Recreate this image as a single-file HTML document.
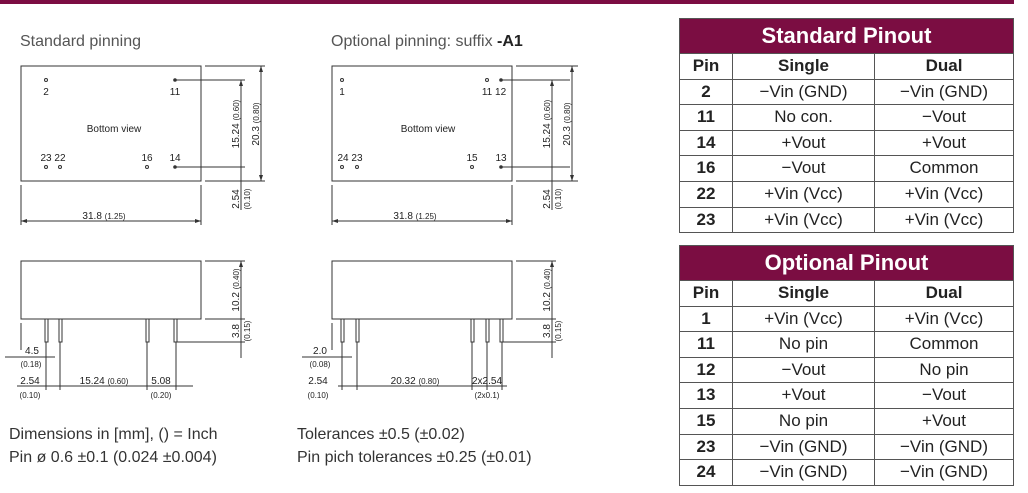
<!DOCTYPE html>
<html><head><meta charset="utf-8"><style>
body{margin:0;width:1028px;height:493px;background:#fff;position:relative;overflow:hidden;font-family:"Liberation Sans",sans-serif}
.t{position:absolute;left:679px;width:335px;border:1px solid #555;box-sizing:border-box}
.h{background:#7b0d42;color:#fff;font-weight:bold;font-size:22px;text-align:center;border-bottom:1px solid #555}
.r{display:flex;border-top:1px solid #555;font-size:17px;color:#222}
.r div{text-align:center;line-height:24.6px}
.r div:nth-child(1){width:52px;font-weight:bold;border-right:1px solid #555}
.r div:nth-child(2){width:141px;border-right:1px solid #555}
.r div:nth-child(3){flex:1}
.r.hd div{font-weight:bold}
</style></head><body>
<div style="position:absolute;left:0;top:0;width:1014px;height:4px;background:#7b0d42"></div>
<svg width="660" height="493" style="position:absolute;left:0;top:0" font-family="Liberation Sans, sans-serif" fill="none">
<defs><marker id="a" viewBox="0 0 6 6" refX="6" refY="3" markerWidth="6" markerHeight="6" orient="auto-start-reverse"><path d="M0,1 L6,3 L0,5z" fill="#333"/></marker></defs>
<g fill="#555" font-size="16"><text x="20" y="46">Standard pinning</text><text x="331" y="46">Optional pinning: suffix <tspan fill="#222" font-weight="bold">-A1</tspan></text></g>
<g stroke="#333" stroke-width="1">
<rect x="21" y="66" width="180" height="115"/>
<line x1="175" y1="80" x2="245" y2="80"/><line x1="175" y1="167" x2="245" y2="167"/>
<line x1="205" y1="66" x2="265" y2="66"/><line x1="205" y1="181" x2="265" y2="181"/>
<line x1="241" y1="80" x2="241" y2="210" marker-start="url(#a)"/>
<line x1="261" y1="66" x2="261" y2="181" marker-start="url(#a)" marker-end="url(#a)"/>
<line x1="21" y1="185" x2="21" y2="225"/><line x1="201" y1="185" x2="201" y2="225"/>
<line x1="21" y1="221" x2="201" y2="221" marker-start="url(#a)" marker-end="url(#a)"/>
<rect x="332" y="66" width="180" height="115"/>
<line x1="501" y1="80" x2="570" y2="80"/><line x1="501" y1="167" x2="570" y2="167"/>
<line x1="516" y1="66" x2="578" y2="66"/><line x1="516" y1="181" x2="578" y2="181"/>
<line x1="552" y1="80" x2="552" y2="210" marker-start="url(#a)"/>
<line x1="572" y1="66" x2="572" y2="181" marker-start="url(#a)" marker-end="url(#a)"/>
<line x1="332" y1="185" x2="332" y2="225"/><line x1="512" y1="185" x2="512" y2="225"/>
<line x1="332" y1="221" x2="512" y2="221" marker-start="url(#a)" marker-end="url(#a)"/>
<rect x="21" y="261" width="180" height="58"/>
<rect x="45" y="319" width="3" height="23"/><rect x="59" y="319" width="3" height="23"/><rect x="146" y="319" width="3" height="23"/><rect x="174" y="319" width="3" height="23"/>
<line x1="205" y1="261" x2="245" y2="261"/><line x1="205" y1="319" x2="245" y2="319"/><line x1="177" y1="342" x2="245" y2="342"/>
<line x1="241" y1="261" x2="241" y2="358" marker-start="url(#a)"/>
<line x1="21" y1="323" x2="21" y2="350"/>
<line x1="5" y1="357" x2="55" y2="357"/>
<line x1="46" y1="342" x2="46" y2="390"/><line x1="60" y1="342" x2="60" y2="390"/><line x1="147" y1="342" x2="147" y2="390"/><line x1="176" y1="342" x2="176" y2="390"/>
<line x1="17" y1="386" x2="193" y2="386"/>
<rect x="332" y="261" width="180" height="58"/>
<rect x="341" y="319" width="3" height="23"/><rect x="356" y="319" width="3" height="23"/><rect x="471" y="319" width="3" height="23"/><rect x="486" y="319" width="3" height="23"/><rect x="500" y="319" width="3" height="23"/>
<line x1="516" y1="261" x2="556" y2="261"/><line x1="516" y1="319" x2="556" y2="319"/><line x1="503" y1="342" x2="556" y2="342"/>
<line x1="552" y1="261" x2="552" y2="358" marker-start="url(#a)"/>
<line x1="332" y1="323" x2="332" y2="350"/>
<line x1="302" y1="357" x2="352" y2="357"/>
<line x1="342" y1="342" x2="342" y2="390"/><line x1="357" y1="342" x2="357" y2="390"/><line x1="472" y1="342" x2="472" y2="390"/><line x1="487" y1="342" x2="487" y2="390"/><line x1="502" y1="342" x2="502" y2="390"/>
<line x1="338" y1="386" x2="507" y2="386"/>
</g>
<g fill="#fff" stroke="#333"><circle cx="46" cy="80" r="1.5"/><circle cx="46" cy="167" r="1.5"/><circle cx="60" cy="167" r="1.5"/><circle cx="147" cy="167" r="1.5"/><circle cx="342" cy="80" r="1.5"/><circle cx="487" cy="80" r="1.5"/><circle cx="342" cy="167" r="1.5"/><circle cx="357" cy="167" r="1.5"/><circle cx="472" cy="167" r="1.5"/></g>
<g fill="#333"><circle cx="175" cy="80" r="1.8"/><circle cx="175" cy="167" r="1.8"/><circle cx="501" cy="80" r="1.8"/><circle cx="501" cy="167" r="1.8"/></g>
<g fill="#222" font-size="10" text-anchor="middle">
<text x="46" y="95">2</text><text x="175" y="95">11</text><text x="53" y="161">23 22</text><text x="147" y="161">16</text><text x="175" y="161">14</text>
<text x="114" y="132">Bottom view</text>
<text x="342" y="95">1</text><text x="494" y="95">11 12</text><text x="350" y="161">24 23</text><text x="472" y="161">15</text><text x="501" y="161">13</text>
<text x="428" y="132">Bottom view</text>
<text x="104" y="219" font-size="10">31.8 <tspan font-size="8">(1.25)</tspan></text>
<text x="415" y="219" font-size="10">31.8 <tspan font-size="8">(1.25)</tspan></text>
<text transform="translate(239,124) rotate(-90)">15.24 <tspan font-size="8">(0.60)</tspan></text>
<text transform="translate(259,124) rotate(-90)">20.3 <tspan font-size="8">(0.80)</tspan></text>
<text transform="translate(239,199) rotate(-90)">2.54</text><text transform="translate(250,199) rotate(-90)" font-size="8">(0.10)</text>
<text transform="translate(550,124) rotate(-90)">15.24 <tspan font-size="8">(0.60)</tspan></text>
<text transform="translate(570,124) rotate(-90)">20.3 <tspan font-size="8">(0.80)</tspan></text>
<text transform="translate(550,199) rotate(-90)">2.54</text><text transform="translate(561,199) rotate(-90)" font-size="8">(0.10)</text>
<text transform="translate(239,290) rotate(-90)">10.2 <tspan font-size="8">(0.40)</tspan></text>
<text transform="translate(239,331) rotate(-90)">3.8</text><text transform="translate(250,331) rotate(-90)" font-size="8">(0.15)</text>
<text transform="translate(550,290) rotate(-90)">10.2 <tspan font-size="8">(0.40)</tspan></text>
<text transform="translate(550,331) rotate(-90)">3.8</text><text transform="translate(561,331) rotate(-90)" font-size="8">(0.15)</text>
<text x="32" y="354">4.5</text><text x="31" y="367" font-size="8">(0.18)</text>
<text x="30" y="384">2.54</text><text x="30" y="398" font-size="8">(0.10)</text>
<text x="104" y="384">15.24 <tspan font-size="8">(0.60)</tspan></text>
<text x="161" y="384">5.08</text><text x="161" y="398" font-size="8">(0.20)</text>
<text x="320" y="354">2.0</text><text x="320" y="367" font-size="8">(0.08)</text>
<text x="318" y="384">2.54</text><text x="318" y="398" font-size="8">(0.10)</text>
<text x="415" y="384">20.32 <tspan font-size="8">(0.80)</tspan></text>
<text x="487" y="384">2x2.54</text><text x="487" y="398" font-size="8">(2x0.1)</text>
</g>
<g fill="#333" font-size="16"><text x="9" y="439">Dimensions in [mm], () = Inch</text><text x="9" y="462">Pin ø 0.6 ±0.1 (0.024 ±0.004)</text>
<text x="297" y="439">Tolerances  ±0.5 (±0.02)</text><text x="297" y="462">Pin pich tolerances ±0.25 (±0.01)</text></g>
</svg>
<div class="t" style="top:18px">
<div class="h" style="height:34px;line-height:34px">Standard Pinout</div>
<div class="r hd" style="border-top:0"><div>Pin</div><div>Single</div><div>Dual</div></div>
<div class="r"><div>2</div><div>−Vin (GND)</div><div>−Vin (GND)</div></div>
<div class="r"><div>11</div><div>No con.</div><div>−Vout</div></div>
<div class="r"><div>14</div><div>+Vout</div><div>+Vout</div></div>
<div class="r"><div>16</div><div>−Vout</div><div>Common</div></div>
<div class="r"><div>22</div><div>+Vin (Vcc)</div><div>+Vin (Vcc)</div></div>
<div class="r"><div>23</div><div>+Vin (Vcc)</div><div>+Vin (Vcc)</div></div>
</div>
<div class="t" style="top:245px">
<div class="h" style="height:34px;line-height:34px">Optional Pinout</div>
<div class="r hd" style="border-top:0"><div>Pin</div><div>Single</div><div>Dual</div></div>
<div class="r"><div>1</div><div>+Vin (Vcc)</div><div>+Vin (Vcc)</div></div>
<div class="r"><div>11</div><div>No pin</div><div>Common</div></div>
<div class="r"><div>12</div><div>−Vout</div><div>No pin</div></div>
<div class="r"><div>13</div><div>+Vout</div><div>−Vout</div></div>
<div class="r"><div>15</div><div>No pin</div><div>+Vout</div></div>
<div class="r"><div>23</div><div>−Vin (GND)</div><div>−Vin (GND)</div></div>
<div class="r"><div>24</div><div>−Vin (GND)</div><div>−Vin (GND)</div></div>
</div>
</body></html>
